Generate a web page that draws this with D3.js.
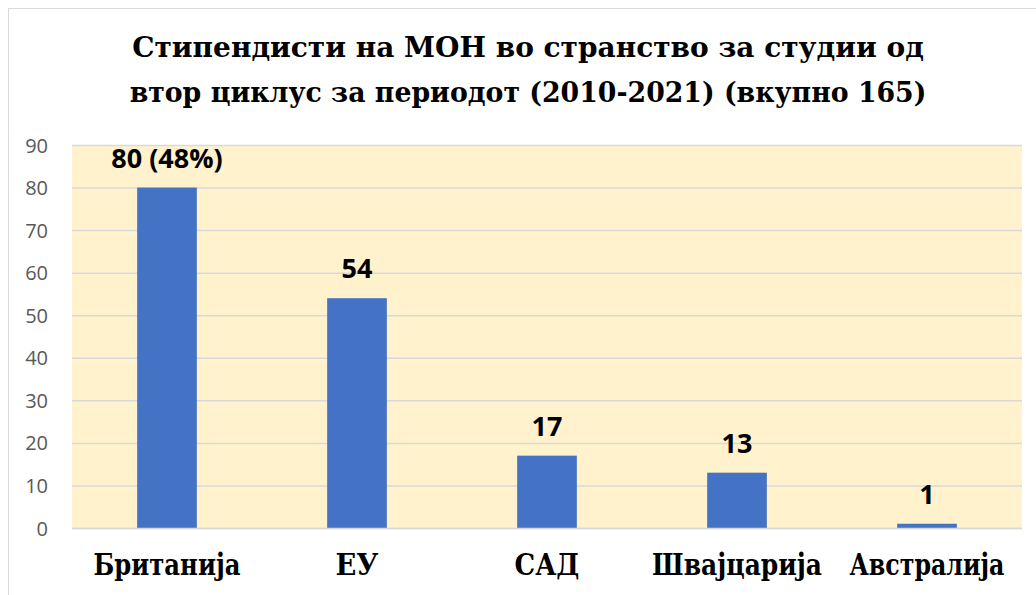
<!DOCTYPE html>
<html>
<meta charset="utf-8">
<style>
body { margin: 0; background: #fff; }
svg { display: block; }
.title { font-family: "DejaVu Serif", serif; font-weight: bold; font-size: 28px; fill: #000; }
.ytick text { font-family: "Open Sans", sans-serif; font-size: 20px; fill: #595959; }
.xlab { font-family: "DejaVu Serif", serif; font-weight: bold; font-size: 30px; fill: #000; }
.val { font-family: "Open Sans", sans-serif; font-weight: bold; font-size: 27px; fill: #000; }
</style>
<body>
<svg id="chart" width="1036" height="595"></svg>
<script src="https://d3js.org/d3.v7.min.js"></script>
<script>
var categories = ["Британија", "ЕУ", "САД", "Швајцарија", "Австралија"];
var values = [80, 54, 17, 13, 1];
var labels = ["80 (48%)", "54", "17", "13", "1"];
var yTicks = [0, 10, 20, 30, 40, 50, 60, 70, 80, 90];
var titleLines = ["Стипендисти на МОН во странство за студии од",
	"втор циклус за периодот (2010-2021) (вкупно 165)"];
// the serif face here is wider than the original one, so text widths are pinned
var titleWidths = [807, 797];
var xlabWidths = [147, 43, 65, 170, 155];

var plot = {left: 72, right: 1022, top: 145, bottom: 528};

var svg = d3.select("#chart");

// squeeze a text horizontally around its anchor point
function squeeze(sel, cx, cy, target) {
	var w = sel.node().getComputedTextLength();
	var s = Math.min(1, target / w);
	sel.attr("x", 0).attr("y", 0)
		.attr("transform", "translate(" + cx + "," + cy + ") scale(" + s + ",1)");
}

// chart border (only top/left are visible in the frame)
svg.append("rect")
	.attr("x", 8.5).attr("y", 8.5)
	.attr("width", 1100).attr("height", 700)
	.attr("fill", "none")
	.attr("stroke", "#d9d9d9");

svg.selectAll(".title")
	.data(titleLines)
	.enter().append("text")
	.attr("class", "title")
	.attr("text-anchor", "middle")
	.text(function(d) { return d; })
	.each(function(d, i) { squeeze(d3.select(this), 528, 57 + i * 45, titleWidths[i]); });

var x = d3.scaleBand()
	.domain(categories)
	.range([plot.left, plot.right])
	.paddingInner(0.686)
	.paddingOuter(0.343);

var y = d3.scaleLinear()
	.domain([0, 90])
	.range([plot.bottom, plot.top]);

svg.append("rect")
	.attr("x", plot.left).attr("y", plot.top)
	.attr("width", plot.right - plot.left)
	.attr("height", plot.bottom - plot.top)
	.attr("fill", "#fff2cc");

var yAxis = svg.append("g")
	.attr("class", "ytick")
	.attr("transform", "translate(" + plot.left + ",0)")
	.call(d3.axisLeft(y).tickValues(yTicks).tickSize(-(plot.right - plot.left)).tickPadding(24));
yAxis.select(".domain").remove();
yAxis.selectAll("line").attr("stroke", "#d9d9d9").attr("stroke-width", 1.5);
yAxis.selectAll("text").attr("dy", "0.35em");

svg.selectAll(".bar")
	.data(values)
	.enter().append("rect")
	.attr("class", "bar")
	.attr("x", function(d, i) { return x(categories[i]); })
	.attr("y", function(d) { return y(d); })
	.attr("width", x.bandwidth())
	.attr("height", function(d) { return y(0) - y(d); })
	.attr("fill", "#4472c4");

svg.append("line")
	.attr("x1", plot.left).attr("x2", plot.right)
	.attr("y1", y(0) + 0.5).attr("y2", y(0) + 0.5)
	.attr("stroke", "#d9d9d9").attr("stroke-width", 1.5);

svg.selectAll(".val")
	.data(values)
	.enter().append("text")
	.attr("class", "val")
	.attr("x", function(d, i) { return x(categories[i]) + x.bandwidth() / 2; })
	.attr("y", function(d) { return y(d) - 20; })
	.attr("text-anchor", "middle")
	.text(function(d, i) { return labels[i]; });

svg.selectAll(".xlab")
	.data(categories)
	.enter().append("text")
	.attr("class", "xlab")
	.attr("text-anchor", "middle")
	.text(function(d) { return d; })
	.each(function(d, i) { squeeze(d3.select(this), x(d) + x.bandwidth() / 2, 575, xlabWidths[i]); });
</script>
</body>
</html>
